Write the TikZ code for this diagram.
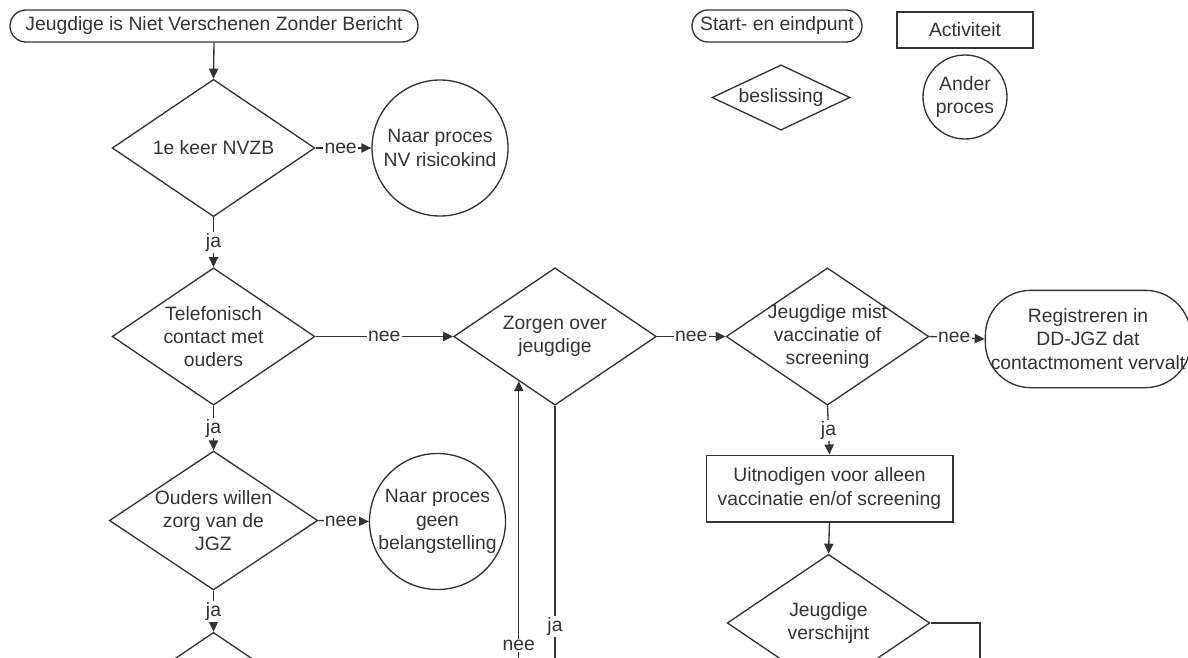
\documentclass[tikz,border=0pt]{standalone}
\usepackage{fontspec}
\setmainfont{Liberation Sans}
\usetikzlibrary{shapes.geometric,arrows.meta}
\begin{document}
\begin{tikzpicture}[x=0.75pt,y=-0.75pt,
  every node/.style={font=\fontsize{14.5}{17.5}\selectfont, text=black!80, align=center},
  base/.style={draw=black!80, line width=1pt},
  term/.style={base, rectangle, rounded corners=12pt, inner sep=0pt},
  act/.style={base, rectangle, inner sep=0pt},
  dec/.style={base, diamond, shape aspect=1.5, inner sep=0pt, minimum width=152pt, minimum height=103pt},
  proc/.style={base, circle, inner sep=0pt, minimum size=102pt},
  conn/.style={draw=black!80, line width=1pt, -{Triangle[length=7.5pt,width=7pt]}},
  line/.style={draw=black!80, line width=1pt},
  lbl/.style={fill=white, inner sep=1pt}
]
\useasboundingbox (0,0) rectangle (1188,657);
\clip (0,0) rectangle (1188,657);

% legend
\node[term, minimum width=127.5pt, minimum height=24pt] (ls) at (777,26) {Start- en eindpunt};
\node[act, minimum width=102pt, minimum height=27pt] (la) at (965,30) {Activiteit};
\node[dec, shape aspect=2.1, minimum width=103.5pt, minimum height=49pt] (lb) at (781,97.5) {beslissing};
\node[proc, minimum size=63pt] (lc) at (965,97) {Ander\\proces};

% main flow
\node[term, minimum width=306pt, minimum height=24pt] (start) at (214,26) {Jeugdige is Niet Verschenen Zonder Bericht};
\node[dec] (d1) at (213.5,148) {1e keer NVZB};
\node[proc] (c1) at (440,148) {Naar proces\\NV risicokind};
\node[dec] (d2) at (213.5,336.5) {Telefonisch\\contact met\\ouders};
\node[dec] (d3) at (555,336.5) {Zorgen over\\jeugdige};
\node[dec, inner sep=-4pt] (d4) at (827.5,336.5) {Jeugdige mist\\vaccinatie of\\screening};
\node[term, rounded corners=34pt, minimum width=154pt, minimum height=73pt] (t2) at (1088,339) {Registreren in\\DD-JGZ dat\\contactmoment vervalt};
\node[dec] (d5) at (213.5,520.5) {Ouders willen\\zorg van de\\JGZ};
\node[proc] (c2) at (437.5,521.5) {Naar proces\\geen\\belangstelling};
\node[dec] (d6) at (213.5,701) {};
\node[act, minimum width=185pt, minimum height=50pt] (box) at (829.5,488.5) {Uitnodigen voor alleen\\vaccinatie en/of screening};
\node[dec] (d7) at (828.5,623) {Jeugdige\\verschijnt};

\coordinate (e1) at (980,720);
\coordinate (b1) at (519,700);
\coordinate (b2) at (555,700);

% connectors
\draw[conn] (start.south) -- (d1.north);
\draw[conn] (d1.east) -- node[lbl, pos=0.45] {nee} (c1.west);
\draw[conn] (d1.south) -- node[lbl] {ja} (d2.north);
\draw[conn] (d2.east) -- node[lbl] {nee} (d3.west);
\draw[conn] (d3.east) -- node[lbl] {nee} (d4.west);
\draw[conn] (d4.east) -- node[lbl, pos=0.45] {nee} (t2.west);
\draw[conn] (d2.south) -- node[lbl] {ja} (d5.north);
\draw[conn] (d5.east) -- node[lbl, pos=0.45] {nee} (c2.west);
\draw[conn] (d5.south) -- node[lbl] {ja} (d6.north);
\draw[conn] (d4.south) -- node[lbl] {ja} (box.north);
\draw[conn] (box.south) -- (d7.north);
\draw[line] (d7.east) -| (e1);
\draw[conn] (d3.231 |- b1) -- node[lbl, pos=0.172] {nee} (d3.231);
\draw[line] (d3.south) -- node[lbl, pos=0.75] {ja} (b2);
\end{tikzpicture}
\end{document}
